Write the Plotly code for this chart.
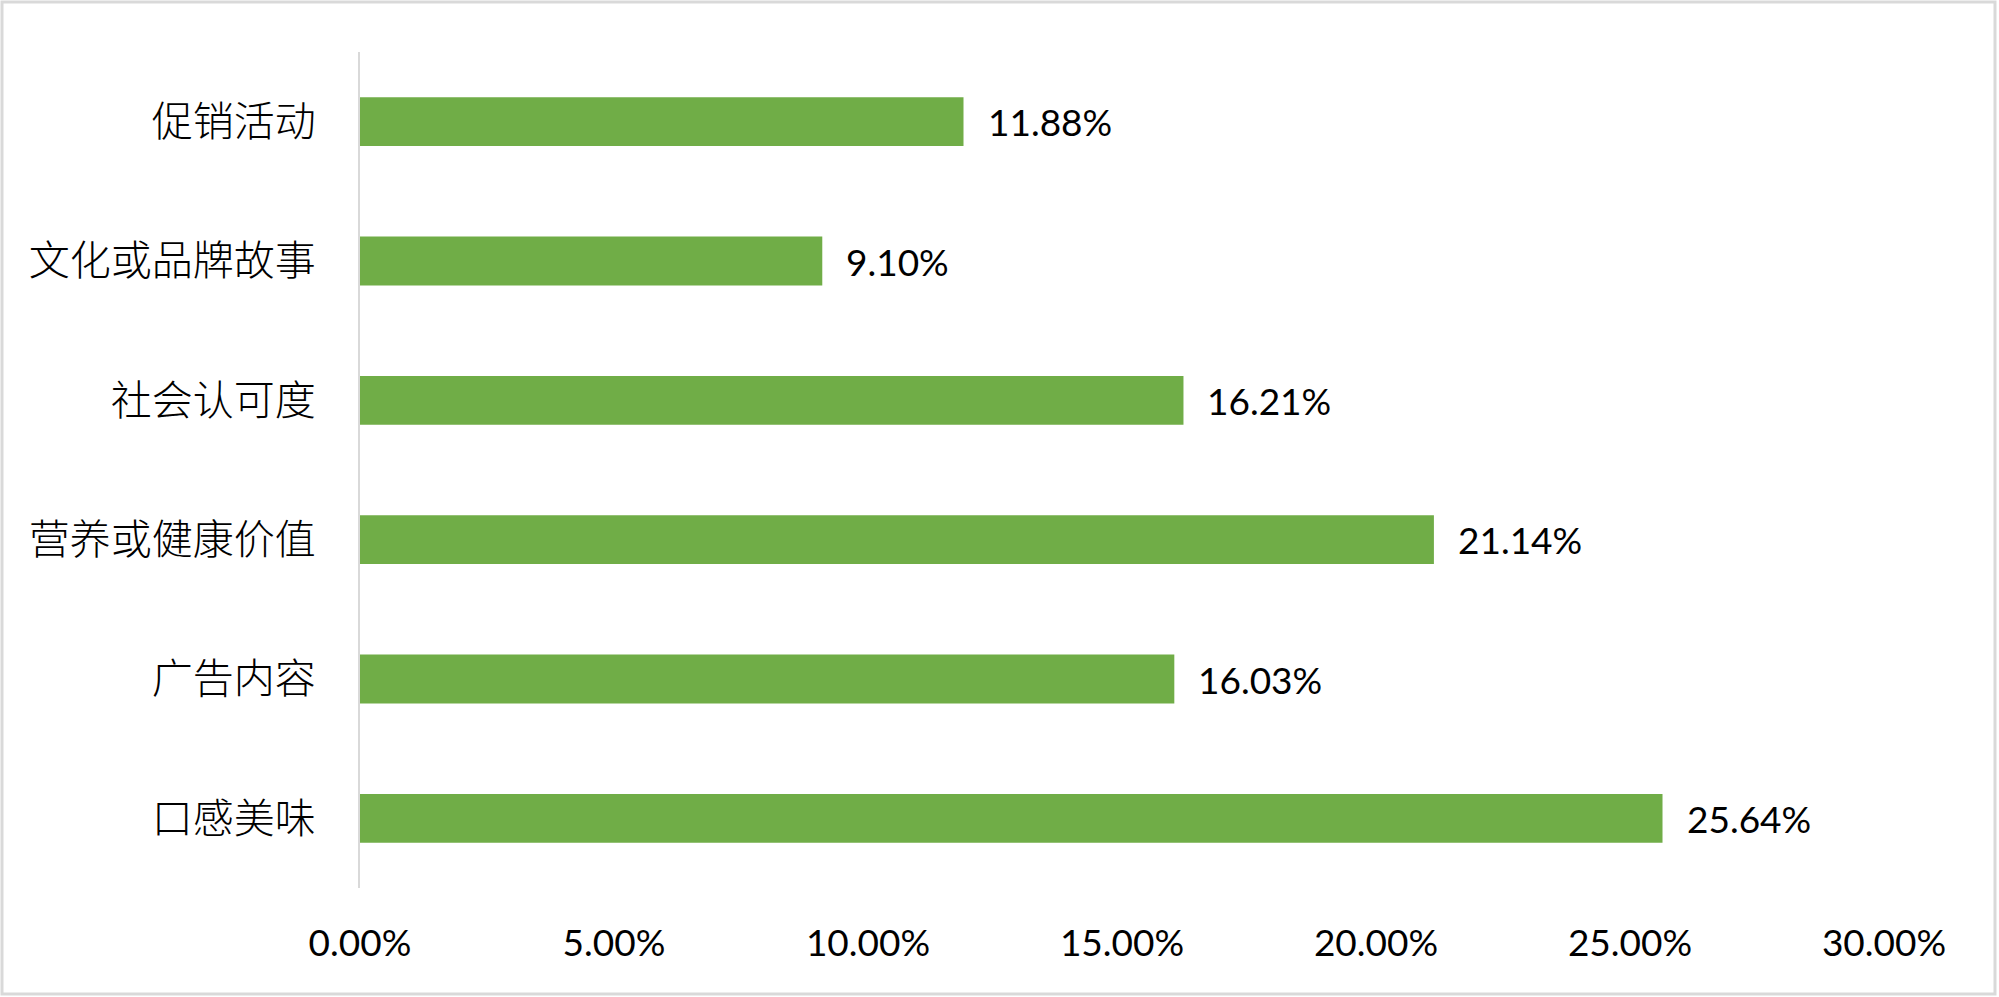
import plotly.graph_objects as go

categories = ["促销活动", "文化或品牌故事", "社会认可度", "营养或健康价值", "广告内容", "口感美味"]
values = [11.88, 9.10, 16.21, 21.14, 16.03, 25.64]
x_ticks = [0, 5, 10, 15, 20, 25, 30]
x_tick_labels = ["0.00%", "5.00%", "10.00%", "15.00%", "20.00%", "25.00%", "30.00%"]

W, H = 1999, 997
ML, MR, MT, MB = 360, 115, 52, 109
PW, PH = W - ML - MR, H - MT - MB

num_font = "Lato, 'Liberation Sans', sans-serif"
cjk_font = "'Noto Sans CJK SC', sans-serif"

fig = go.Figure()
fig.add_trace(go.Bar(
    x=values, y=categories, orientation="h",
    marker=dict(color="#70AD47", line=dict(width=0)),
    hoverinfo="skip",
))

for c, v in zip(categories, values):
    fig.add_annotation(
        x=v, y=c, xref="x", yref="y", text=f"{v:.2f}%",
        showarrow=False, xanchor="left", yanchor="middle", xshift=22,
        font=dict(family=num_font, size=37, color="#000000"),
    )

# outer light-grey border around the whole chart
fig.add_shape(
    type="rect", xref="paper", yref="paper",
    x0=(2 - ML) / PW, x1=(W - 4 - ML) / PW,
    y0=(H - MB - (H - 3)) / PH, y1=(H - MB - 2) / PH,
    line=dict(color="#D9D9D9", width=3), fillcolor="rgba(0,0,0,0)",
    layer="below",
)

fig.update_layout(
    width=W, height=H,
    margin=dict(l=ML, r=MR, t=MT, b=MB, pad=0),
    paper_bgcolor="white", plot_bgcolor="white",
    bargap=0.65, showlegend=False,
    xaxis=dict(
        range=[0, 30], tickvals=x_ticks, ticktext=x_tick_labels,
        showgrid=False, zeroline=False, showline=False,
        ticks="outside", ticklen=23, tickcolor="rgba(0,0,0,0)",
        tickfont=dict(family=num_font, size=37, color="#000000"),
        fixedrange=True,
    ),
    yaxis=dict(
        autorange="reversed", showgrid=False, zeroline=False,
        showline=True, linecolor="#D9D9D9", linewidth=2,
        ticks="outside", ticklen=34, tickcolor="rgba(0,0,0,0)",
        tickfont=dict(family=cjk_font, size=41, color="#000000", weight=300),
        fixedrange=True,
    ),
)

fig.write_html("out.html", post_script="document.body.style.margin='0';", config={"displayModeBar": False})
